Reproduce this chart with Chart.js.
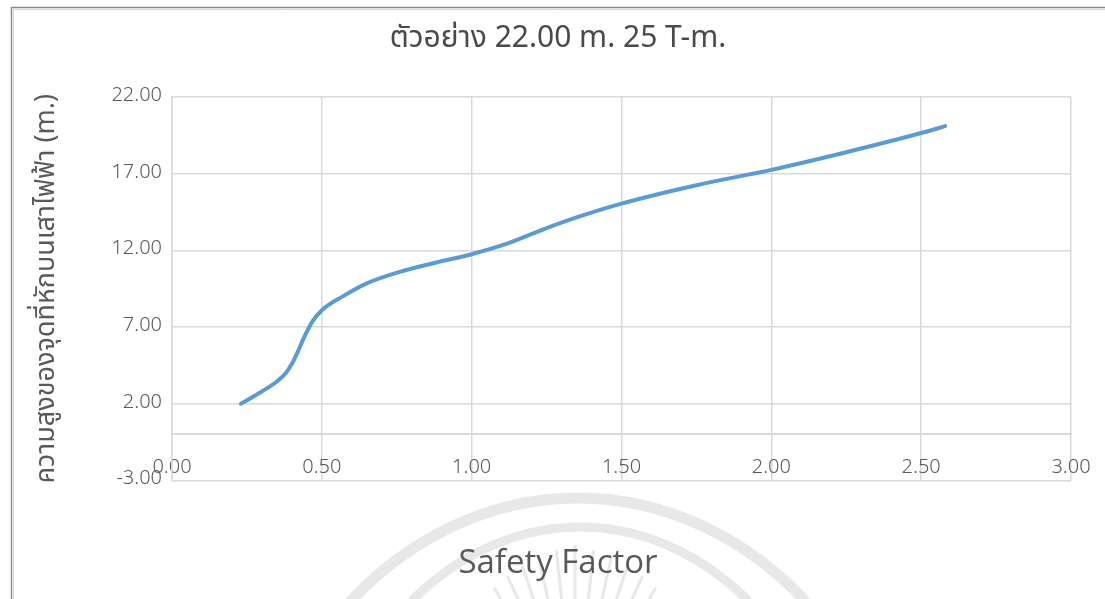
<!DOCTYPE html>
<html>
<head>
<meta charset="utf-8">
<script src="https://cdn.jsdelivr.net/npm/chart.js@4.4.1/dist/chart.umd.min.js"></script>
<style>
  html, body { margin: 0; padding: 0; background: #ffffff; }
  #wrap { width: 1105px; height: 599px; position: relative; }
</style>
</head>
<body>
<div id="wrap"><canvas id="c" width="1105" height="599"></canvas></div>
<script>
// ---- data ----
const chartTitle = 'ตัวอย่าง 22.00 m. 25 T-m.';
const xAxisTitle = 'Safety Factor';
const yAxisTitle = 'ความสูงของจุดที่หักบนเสาไฟฟ้า (m.)';
const safetyFactor = [0.23, 0.30, 0.35, 0.38, 0.40, 0.42, 0.44, 0.47, 0.50, 0.57, 0.65, 0.76, 0.89, 1.00, 1.12, 1.25, 1.35, 1.50, 1.75, 2.00, 2.25, 2.50, 2.58];
const breakHeight  = [2.00, 2.80, 3.45, 4.00, 4.60, 5.40, 6.30, 7.40, 8.10, 9.00, 9.85, 10.60, 11.25, 11.75, 12.45, 13.45, 14.15, 15.05, 16.25, 17.25, 18.40, 19.65, 20.10];
const xMin = 0, xMax = 3, xStep = 0.5;
const yMin = -3, yMax = 22, yStep = 5;

const FONT = "'Noto Sans Thai', 'Noto Sans', 'Open Sans', sans-serif";
const TXT = '#595959';
const GRID = '#d9d9d9';

const decor = {
  id: 'decor',
  beforeDraw(chart) {
    const ctx = chart.ctx;
    ctx.save();
    // faint watermark arcs
    ctx.strokeStyle = 'rgba(210,210,210,0.5)';
    ctx.lineWidth = 11;
    ctx.beginPath(); ctx.ellipse(578, 900, 340, 402, 0, Math.PI * 1.0, Math.PI * 2.0); ctx.stroke();
    ctx.lineWidth = 9;
    ctx.beginPath(); ctx.ellipse(580, 880, 275, 353, 0, Math.PI * 1.0, Math.PI * 2.0); ctx.stroke();
    ctx.lineWidth = 3;
    const cx = 575, cy = 720;
    for (let i = 0; i <= 16; i++) {
      const a = Math.PI * (1.22 + i * 0.035);
      const r0 = 110, r1 = 175 - Math.abs(i - 8) * 4;
      ctx.beginPath();
      ctx.moveTo(cx + r0 * Math.cos(a), cy + r0 * Math.sin(a));
      ctx.lineTo(cx + r1 * Math.cos(a), cy + r1 * Math.sin(a));
      ctx.stroke();
    }
    ctx.restore();
  },
  afterDraw(chart) {
    const ctx = chart.ctx;
    ctx.save();
    ctx.strokeStyle = '#8a8a8a';
    ctx.lineWidth = 1.5;
    ctx.beginPath();
    ctx.moveTo(1105, 7.5); ctx.lineTo(11.5, 7.5); ctx.lineTo(11.5, 599);
    ctx.stroke();
    ctx.strokeStyle = '#d8d8d8';
    ctx.lineWidth = 1;
    ctx.beginPath();
    ctx.moveTo(1105, 9.5); ctx.lineTo(13.5, 9.5); ctx.lineTo(13.5, 599);
    ctx.stroke();
    ctx.restore();
  }
};

new Chart(document.getElementById('c'), {
  type: 'scatter',
  data: {
    datasets: [{
      data: safetyFactor.map((x, i) => ({ x: x, y: breakHeight[i] })),
      showLine: true,
      borderColor: '#5b9bd5',
      backgroundColor: '#5b9bd5',
      borderWidth: 4,
      pointRadius: 0,
      cubicInterpolationMode: 'monotone',
      borderCapStyle: 'round',
      borderJoinStyle: 'round'
    }]
  },
  options: {
    responsive: false,
    animation: false,
    devicePixelRatio: 1,
    layout: { padding: { left: 12, right: 1, top: 0, bottom: 0 } },
    plugins: {
      legend: { display: false },
      tooltip: { enabled: false },
      title: {
        display: true,
        text: chartTitle,
        color: '#4a4a4a',
        font: { family: FONT, size: 30, weight: 'normal' },
        padding: { top: 23, bottom: 38 }
      },
      subtitle: {
        display: true,
        position: 'bottom',
        text: xAxisTitle,
        color: TXT,
        font: { family: "'Open Sans', 'Noto Sans', sans-serif", size: 33, weight: 'normal' },
        padding: { top: 63, bottom: 16 }
      }
    },
    scales: {
      x: {
        type: 'linear',
        position: { y: 0 },
        min: xMin, max: xMax,
        afterFit: s => { s.paddingLeft = 0; s.paddingRight = 0; },
        ticks: {
          stepSize: xStep,
          color: TXT,
          padding: 23,
          maxRotation: 0,
          font: { family: FONT, size: 20, weight: '300' },
          callback: v => Number(v).toFixed(2)
        },
        grid: { color: GRID, lineWidth: 1.5, drawTicks: false },
        border: { display: true, color: GRID, width: 2 }
      },
      y: {
        type: 'linear',
        position: 'left',
        min: yMin, max: yMax,
        afterFit: s => { s.width = 160; },
        title: {
          display: true,
          text: yAxisTitle,
          color: TXT,
          font: { family: FONT, size: 27, weight: 'normal' },
          padding: { top: 20, bottom: 0 }
        },
        ticks: {
          stepSize: yStep,
          color: TXT,
          padding: 10,
          font: { family: FONT, size: 20, weight: '300' },
          callback: v => Number(v).toFixed(2)
        },
        grid: { color: GRID, lineWidth: 1.5, drawTicks: false },
        border: { display: true, color: GRID, width: 1.5 }
      },
      yRight: {
        type: 'linear',
        position: 'right',
        min: yMin, max: yMax,
        afterFit: s => { s.width = 33; },
        ticks: { display: false },
        grid: { display: false, drawTicks: false },
        border: { display: false }
      }
    }
  },
  plugins: [decor]
});
</script>
</body>
</html>
